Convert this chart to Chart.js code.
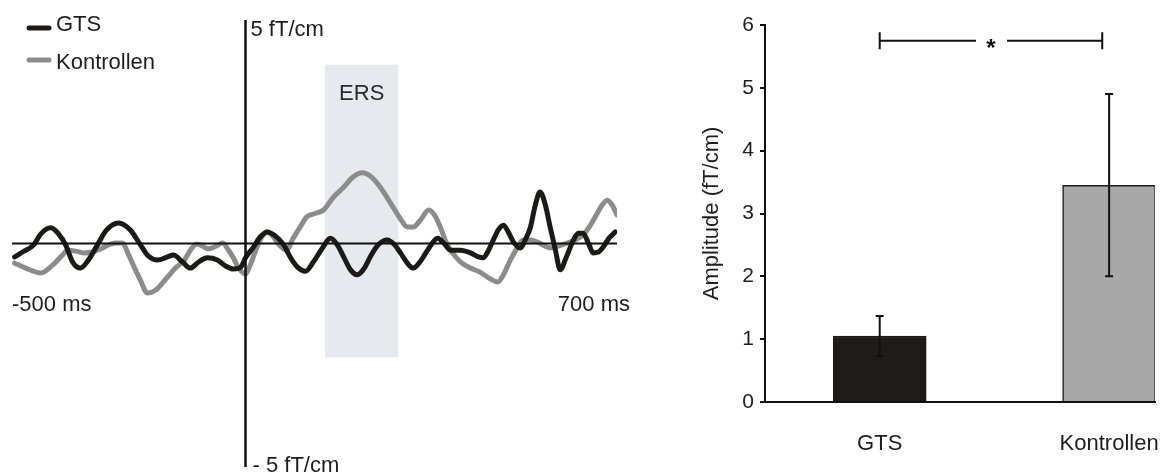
<!DOCTYPE html>
<html>
<head>
<meta charset="utf-8">
<script src="https://cdn.jsdelivr.net/npm/chart.js@4.4.1/dist/chart.umd.min.js"></script>
<style>
  body { margin: 0; background: #fff; }
  #wrap { position: relative; width: 1168px; height: 472px; }
  #wave { position: absolute; left: 0; top: 0; }
  #bars { position: absolute; left: 640px; top: 0; }
</style>
</head>
<body>
<div id="wrap">
  <canvas id="wave" width="640" height="472"></canvas>
  <canvas id="bars" width="528" height="472"></canvas>
</div>
<script>
// averaged waveforms, time in ms, amplitude in fT/cm
var timeGts = [-435, -420, -399, -386, -367, -352, -339, -326, -311, -296, -279, -262, -239, -217, -198,
  -183, -166, -147, -136, -119, -104, -88, -72, -53, -38, -23, -9, 0, 15, 28,
  41, 56, 72, 85, 98, 113, 128, 145, 160, 173, 185, 198, 211, 224, 235,
  250, 267, 281, 292, 305, 316, 330, 343, 362, 375, 386, 405, 424, 439, 448,
  458, 467, 476, 486, 495, 505, 518, 527, 537, 546, 555, 565, 574, 584, 593,
  604, 618, 627, 636, 646, 655, 665, 674, 685, 697]
var ampGts = [-0.30, -0.19, -0.03, 0.21, 0.35, 0.21, -0.03, -0.41, -0.55, -0.37, -0.03, 0.30, 0.46, 0.30, -0.03,
  -0.28, -0.37, -0.30, -0.26, -0.41, -0.55, -0.41, -0.32, -0.37, -0.50, -0.57, -0.53, -0.32, -0.08, 0.15,
  0.26, 0.17, -0.03, -0.32, -0.53, -0.62, -0.41, -0.10, 0.12, -0.03, -0.30, -0.59, -0.70, -0.55, -0.30,
  -0.03, 0.08, -0.03, -0.21, -0.44, -0.55, -0.39, -0.15, 0.12, -0.01, -0.15, -0.15, -0.21, -0.30, -0.32,
  -0.15, 0.08, 0.30, 0.41, 0.26, 0.03, -0.10, 0.08, 0.37, 0.86, 1.15, 0.86, 0.37, -0.15, -0.59,
  -0.32, 0.08, 0.23, 0.23, 0.01, -0.21, -0.19, -0.08, 0.12, 0.26]

var timeKon = [-435, -414, -386, -363, -345, -335, -320, -305, -288, -273, -258, -245, -232, -220, -209,
  -198, -185, -169, -147, -132, -115, -104, -92, -81, -70, -56, -43, -32, -23, -13,
  0, 9, 21, 32, 41, 51, 62, 77, 90, 104, 115, 128, 147, 166, 185,
  201, 220, 237, 254, 273, 292, 305, 316, 330, 345, 356, 367, 378, 390, 405,
  424, 442, 461, 475, 486, 499, 512, 523, 537, 550, 565, 574, 589, 606, 621,
  636, 650, 663, 672, 682, 691, 700]
var ampKon = [-0.44, -0.55, -0.66, -0.48, -0.26, -0.15, -0.17, -0.21, -0.19, -0.12, -0.03, 0.01, 0.01, -0.26, -0.55,
  -0.82, -1.11, -1.04, -0.75, -0.55, -0.37, -0.15, -0.01, -0.06, -0.12, -0.06, 0.01, -0.15, -0.32, -0.55,
  -0.68, -0.48, -0.10, 0.17, 0.26, 0.17, -0.01, -0.15, 0.12, 0.39, 0.59, 0.66, 0.75, 1.04, 1.26,
  1.47, 1.58, 1.49, 1.26, 0.91, 0.55, 0.37, 0.37, 0.53, 0.75, 0.64, 0.37, 0.03, -0.21, -0.41,
  -0.55, -0.64, -0.79, -0.86, -0.70, -0.37, -0.10, 0.08, 0.08, 0.03, -0.06, -0.10, -0.06, 0.01, 0.08,
  0.19, 0.41, 0.68, 0.86, 0.97, 0.86, 0.64]

var ersWindow = [150, 288]      // ms
var ersSpan = [-2.55, 4.0]      // fT/cm

// bar panel: mean amplitude +- error per group
var groups = ['GTS', 'Kontrollen']
var groupPos = [1, 2]
var meanAmp = [1.05, 3.45]
var errAmp = [0.32, 1.45]
var sigSpan = [1, 1.97]
var sigLevel = 5.75

var FONT = '"Liberation Sans", Arial, sans-serif'
var TEXT = '#1e1e1e'
Chart.defaults.font.family = FONT
Chart.defaults.color = TEXT

function toPoints(xs, ys) {
  return xs.map((x, i) => ({ x: x, y: ys[i] }))
}

var wavePlugin = {
  id: 'waveDecor',
  beforeDatasetsDraw(chart) {
    var ctx = chart.ctx, xs = chart.scales.x, ys = chart.scales.y
    var x0 = xs.getPixelForValue(ersWindow[0]), x1 = xs.getPixelForValue(ersWindow[1])
    var yTop = ys.getPixelForValue(ersSpan[1]), yBot = ys.getPixelForValue(ersSpan[0])
    ctx.save()
    ctx.fillStyle = '#e6e9ed'
    ctx.fillRect(x0, yTop, x1 - x0, yBot - yTop)
    ctx.fillStyle = '#2a2a2a'
    ctx.font = '22px ' + FONT
    ctx.textAlign = 'center'
    ctx.textBaseline = 'middle'
    ctx.fillText('ERS', (x0 + x1) / 2, yTop + 29)
    ctx.restore()
  },
  afterDatasetsDraw(chart) {
    var ctx = chart.ctx, xs = chart.scales.x, ys = chart.scales.y
    var zx = xs.getPixelForValue(0), zy = ys.getPixelForValue(0)
    var top = ys.getPixelForValue(ys.max), bottom = ys.getPixelForValue(ys.min)
    ctx.save()
    ctx.strokeStyle = '#111'
    ctx.lineWidth = 2
    ctx.beginPath()
    ctx.moveTo(xs.getPixelForValue(xs.min), zy)
    ctx.lineTo(xs.getPixelForValue(xs.max), zy)
    ctx.stroke()
    ctx.lineWidth = 2.5
    ctx.beginPath()
    ctx.moveTo(zx, top)
    ctx.lineTo(zx, bottom)
    ctx.stroke()

    ctx.fillStyle = TEXT
    ctx.font = '22px ' + FONT
    ctx.textBaseline = 'middle'
    ctx.textAlign = 'left'
    ctx.fillText(ys.max + ' fT/cm', zx + 5, top + 10)
    ctx.fillText('- ' + Math.abs(ys.min) + ' fT/cm', zx + 7, bottom - 1)
    ctx.fillText('-500 ms', xs.left, zy + 61)
    ctx.textAlign = 'right'
    ctx.fillText('700 ms', xs.right + 13, zy + 61)

    // legend
    ctx.textAlign = 'left'
    ctx.lineCap = 'round'
    ctx.lineWidth = 5
    var rows = [28, 60]
    chart.data.datasets.forEach((ds, i) => {
      var y = rows[i]
      ctx.strokeStyle = ds.borderColor
      ctx.beginPath()
      ctx.moveTo(29, y)
      ctx.lineTo(49, y)
      ctx.stroke()
      ctx.fillStyle = TEXT
      ctx.fillText(ds.label, 56, y + (i == 0 ? -3 : 3))
    })
    ctx.restore()
  }
}

new Chart(document.getElementById('wave'), {
  type: 'line',
  data: {
    datasets: [{
      label: 'GTS',
      data: toPoints(timeGts, ampGts),
      borderColor: '#1c1a19',
      borderWidth: 5,
      pointRadius: 0,
      cubicInterpolationMode: 'monotone',
      borderJoinStyle: 'round',
      borderCapStyle: 'round'
    }, {
      label: 'Kontrollen',
      data: toPoints(timeKon, ampKon),
      borderColor: '#8c8c8c',
      borderWidth: 5,
      pointRadius: 0,
      cubicInterpolationMode: 'monotone',
      borderJoinStyle: 'round',
      borderCapStyle: 'round'
    }]
  },
  options: {
    responsive: false,
    animation: false,
    layout: { padding: { left: 12, right: 23, top: 20, bottom: 5 } },
    scales: {
      x: { type: 'linear', min: -440, max: 700, display: false },
      y: { min: -5, max: 5, display: false }
    },
    plugins: { legend: { display: false }, tooltip: { enabled: false } }
  },
  plugins: [wavePlugin]
})

var barPlugin = {
  id: 'errorBars',
  afterDatasetsDraw(chart) {
    var ctx = chart.ctx, xs = chart.scales.x, ys = chart.scales.y
    ctx.save()
    ctx.strokeStyle = '#111'
    ctx.lineWidth = 2
    groupPos.forEach((g, i) => {
      var x = xs.getPixelForValue(g)
      var hi = ys.getPixelForValue(meanAmp[i] + errAmp[i])
      var lo = ys.getPixelForValue(meanAmp[i] - errAmp[i])
      ctx.beginPath()
      ctx.moveTo(x, hi); ctx.lineTo(x, lo)
      ctx.moveTo(x - 4, hi); ctx.lineTo(x + 4, hi)
      ctx.moveTo(x - 4, lo); ctx.lineTo(x + 4, lo)
      ctx.stroke()
    })

    // significance bracket
    var a = xs.getPixelForValue(sigSpan[0]), b = xs.getPixelForValue(sigSpan[1])
    var y = ys.getPixelForValue(sigLevel), mid = (a + b) / 2
    ctx.beginPath()
    ctx.moveTo(a, y); ctx.lineTo(mid - 15, y)
    ctx.moveTo(mid + 16, y); ctx.lineTo(b, y)
    ctx.moveTo(a, y - 8.5); ctx.lineTo(a, y + 8.5)
    ctx.moveTo(b, y - 8.5); ctx.lineTo(b, y + 8.5)
    ctx.stroke()
    ctx.fillStyle = '#111'
    ctx.font = 'bold 24px ' + FONT
    ctx.textAlign = 'center'
    ctx.textBaseline = 'alphabetic'
    ctx.fillText('*', mid, y + 15)
    ctx.restore()
  }
}

new Chart(document.getElementById('bars'), {
  type: 'bar',
  data: {
    datasets: [{
      data: toPoints(groupPos, meanAmp),
      backgroundColor: ['#1f1b18', '#a8a8a8'],
      borderColor: '#1a1a1a',
      borderWidth: 1.5,
      barThickness: 93
    }]
  },
  options: {
    responsive: false,
    animation: false,
    layout: { padding: { left: 0, right: 13, top: 25, bottom: 0 } },
    scales: {
      x: {
        type: 'linear',
        min: 0.5,
        max: 2.2,
        offset: false,
        grid: { display: false, offset: false },
        border: { color: '#111', width: 2 },
        ticks: {
          font: { size: 22 },
          color: TEXT,
          padding: 21,
          callback: v => groups[groupPos.indexOf(v)]
        },
        afterBuildTicks: s => { s.ticks = groupPos.map(v => ({ value: v })) },
        afterFit: s => {
          s.height = 70
          // labels may overhang the plot edges, keep the plot width fixed
          s.paddingLeft = 0
          s.paddingRight = 0
        }
      },
      y: {
        min: 0,
        max: 6,
        grid: { drawOnChartArea: false, drawTicks: true, tickLength: 5, color: '#111', lineWidth: 2 },
        border: { color: '#111', width: 2 },
        ticks: { stepSize: 1, font: { size: 21 }, color: TEXT, padding: 6 },
        title: {
          display: true,
          text: 'Amplitude (fT/cm)',
          font: { size: 22 },
          color: TEXT,
          padding: { top: 59, bottom: 0 }
        },
        afterFit: s => { s.width = 125 }
      }
    },
    plugins: { legend: { display: false }, tooltip: { enabled: false } }
  },
  plugins: [barPlugin]
})
</script>
</body>
</html>
